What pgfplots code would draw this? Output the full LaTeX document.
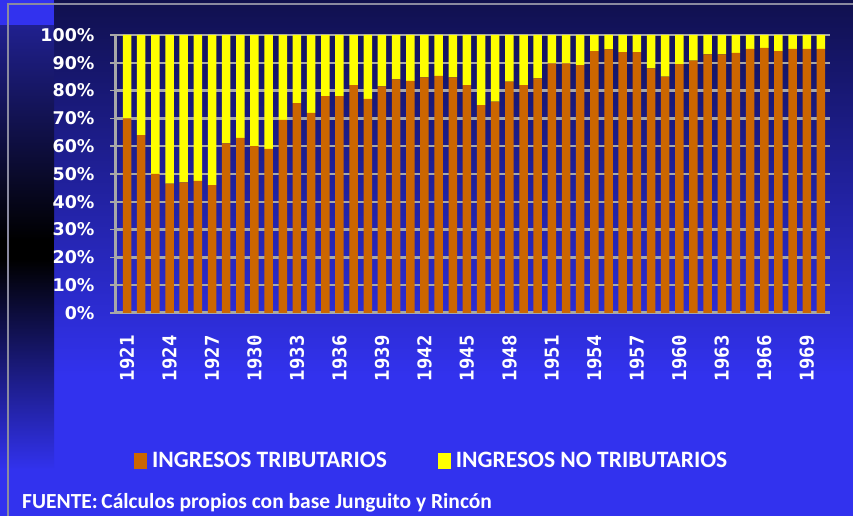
\documentclass[border=0pt]{standalone}
\usepackage{pgfplots}
\pgfplotsset{compat=1.18}
\usepackage{pgfplotstable}
\usepackage{fontspec}
\setmainfont{Carlito}
\newfontfamily\ylabfont{DejaVu Sans}
\newfontfamily\yearfont{DejaVu Sans Mono}
\usetikzlibrary{shadings}
\definecolor{trib}{HTML}{CC6600}
\definecolor{notrib}{HTML}{FFFF00}
\definecolor{navy}{HTML}{10104E}
\definecolor{bblue}{HTML}{3232EE}
\definecolor{stripblue}{HTML}{20208E}
\definecolor{gridg}{HTML}{A8A8A8}
\definecolor{frameg}{HTML}{8A8AA0}

\pgfplotstableread{
year trib notrib
1921 70.0 30.0
1922 64.0 36.0
1923 50.0 50.0
1924 46.5 53.5
1925 47.0 53.0
1926 47.5 52.5
1927 46.0 54.0
1928 61.0 39.0
1929 63.0 37.0
1930 60.0 40.0
1931 59.0 41.0
1932 69.5 30.5
1933 75.5 24.5
1934 72.0 28.0
1935 78.0 22.0
1936 78.0 22.0
1937 82.0 18.0
1938 77.0 23.0
1939 81.5 18.5
1940 84.0 16.0
1941 83.5 16.5
1942 84.8 15.2
1943 85.3 14.7
1944 84.8 15.2
1945 82.0 18.0
1946 74.8 25.2
1947 76.0 24.0
1948 83.2 16.8
1949 82.0 18.0
1950 84.4 15.6
1951 89.8 10.2
1952 89.8 10.2
1953 89.2 10.8
1954 94.2 5.8
1955 94.8 5.2
1956 93.8 6.2
1957 93.8 6.2
1958 88.0 12.0
1959 85.0 15.0
1960 89.5 10.5
1961 90.8 9.2
1962 93.0 7.0
1963 93.0 7.0
1964 93.6 6.4
1965 95.0 5.0
1966 95.4 4.6
1967 94.2 5.8
1968 95.0 5.0
1969 95.0 5.0
1970 95.0 5.0
}\datatable

\begin{document}
\begin{tikzpicture}
\useasboundingbox (0pt,0pt) rectangle (853pt,516pt);
% main background
\shade[top color=navy, bottom color=bblue] (54pt,140pt) rectangle (853pt,516pt);
\fill[bblue] (54pt,0pt) rectangle (853pt,140.5pt);
% left strip
\fill[bblue] (0pt,490pt) rectangle (54pt,516pt);
\shade[top color=stripblue, bottom color=black] (0pt,276pt) rectangle (54pt,490.5pt);
\fill[black] (0pt,256pt) rectangle (54pt,276.5pt);
\shade[top color=black, bottom color=bblue] (0pt,46pt) rectangle (54pt,256.5pt);
\fill[bblue] (0pt,0pt) rectangle (54pt,46.5pt);
% frame lines
\draw[frameg, line width=1.5pt] (8pt,0pt) -- (8pt,512pt) -- (853pt,512pt);

\begin{axis}[
  at={(115pt,203pt)}, anchor=south west,
  scale only axis, width=715pt, height=278pt,
  ybar stacked, bar width=8.5pt,
  xmin=1920.15, xmax=1970.64, ymin=0, ymax=100,
  axis lines*=left,
  axis line style={gridg, line width=3pt, -},
  xtick={1921,1924,1927,1930,1933,1936,1939,1942,1945,1948,1951,1954,1957,1960,1963,1966,1969},
  xticklabels={1921,1924,1927,1930,1933,1936,1939,1942,1945,1948,1951,1954,1957,1960,1963,1966,1969},
  xtick style={draw=none},
  xticklabel style={rotate=90, anchor=east, xshift=-14pt, text=white,
    font=\yearfont\bfseries\fontsize{19}{19}\selectfont},
  ytick={0,10,20,30,40,50,60,70,80,90,100},
  yticklabels={0\%,10\%,20\%,30\%,40\%,50\%,60\%,70\%,80\%,90\%,100\%},
  ytick style={gridg, line width=1.5pt},
  tick align=outside, major tick length=5pt,
  yticklabel style={text=white, xshift=-12pt,
    font=\ylabfont\bfseries\fontsize{17.5}{17.5}\selectfont},
  ymajorgrids, grid style={gridg, line width=2.5pt},
  legend columns=2,
  legend style={at={(0.445,-0.532)}, anchor=center, draw=none, fill=none,
    text=white, font=\bfseries\fontsize{23.5}{23.5}\selectfont,
    nodes={inner xsep=5pt},
    /tikz/every even column/.append style={column sep=46pt}},
  legend image code/.code={\fill[#1] (0pt,-8pt) rectangle (13pt,8pt);},
]
\addplot[fill=trib, draw=none] table[x=year, y=trib]{\datatable};
\addplot[fill=notrib, draw=none] table[x=year, y=notrib]{\datatable};
\legend{INGRESOS TRIBUTARIOS, INGRESOS NO TRIBUTARIOS}
\end{axis}

\node[anchor=west, text=white, font=\bfseries\fontsize{21.5}{21.5}\selectfont, inner sep=0pt]
  at (22pt,13pt) {FUENTE:\,Cálculos propios con base Junguito y Rincón};
\end{tikzpicture}
\end{document}
